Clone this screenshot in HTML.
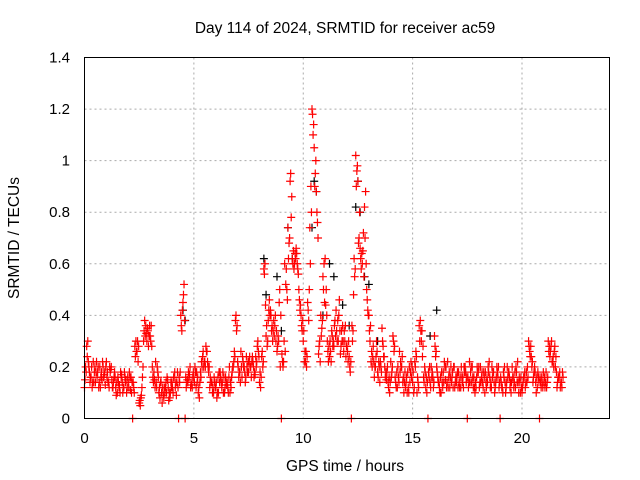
<!DOCTYPE html>
<html><head><meta charset="utf-8"><style>
body{margin:0;background:#fff}
svg{display:block;font-family:"Liberation Sans",sans-serif}
</style></head><body>
<svg id="chart" width="640" height="480">
<text x="345" y="33" text-anchor="middle" font-size="15.5">Day 114 of 2024, SRMTID for receiver ac59</text>
<g id="grid"></g>
<g id="axes"></g>
<g id="black"></g>
<g id="red"></g>
<rect x="84.5" y="57.5" width="525" height="361" fill="none" stroke="#000"/>
<text x="345" y="471" text-anchor="middle" font-size="15.5">GPS time / hours</text>
<text transform="translate(19,238) rotate(-90)" text-anchor="middle" font-size="15.5">SRMTID / TECUs</text>
</svg>
<script>
const xTicks=[0,5,10,15,20];
const yTicks=[0,0.2,0.4,0.6,0.8,1,1.2,1.4];
const yTickLabels=["0","0.2","0.4","0.6","0.8","1","1.2","1.4"];
const valsA=[.12,.28,.2,.16,.22,.14,.18,.2,.15,.17,
.22,.14,.19,.12,.16,.1,.13,.17,.12,.15,
.14,.11,0,.28,.26,.06,.09,.3,.36,.34,
.32,.2,.15,.12,.1,.14,.09,.12,.15,.08,
.14,.16,.09,0,.4,.45,0,.15,.17,.13,
.16,.12,.1,.18,.24,.22,.26,.2,.14,.1,
.12,.16,.18,.14,.1,.13,.16,.12,.2,.38,
.22,.18,.16,.2,.24,.18,.2,.22,.17,.28,
.14,.24,.58,.32,.38,.42,.3,.36,.26,.45,
0,.22,.52,.74,.92,.62,.6,.64,.5,.4,
.3,.22,.45,.74,1.2,1.05,.88,.25,.4,.55,
.62,.3,.24,.34,.28,.42,.3,.25,.36,.3,
.28,.24,0,.48,1.02,.92,.66,.6,.82,.5,
.4,.22,.28,.2,.18,.14,.35,.24,.15,.12,
.22,.32,.16,.12,.26,.2,.1,.14,.12,.18,
.14,.22,.1,.36,.3,.16,.12,0,.14,.18,
.32,.2,.14,.1,.18,.15,.22,.12,.16,.2,
.14,.18,.12,.16,.2,0,.22,.14,.16,.12,
.18,.2,.14,.1,.16,.22,.12,.18,.14,.16,
0,.12,.2,.14,.18,.1,.16,.12,.22,.14,
.1,.16,.18,.3,.28,.14,.18,.12,0,.16,
.14,.18,.3,.26,.22,.28,.12,.16,.14];
const valsB=[.2,.3,.14,.12,.18,.22,.12,.16,.2,.13,
.18,.2,.15,.16,.09,.14,.18,.1,.16,.12,
.18,.1,.12,.3,.22,.05,.16,.38,.3,.32,
.36,.14,.22,.18,.08,.06,.12,.1,.07,.14,
.1,.12,.18,.14,.34,.52,.12,.18,.12,.16,
.2,.14,.08,.22,.2,.28,.2,.16,.1,.14,
.08,.18,.14,.1,.16,.12,.1,.18,.26,.34,
.16,.26,.22,.14,.18,.24,.22,.16,.2,.26,
.12,.2,.6,.28,.46,.34,.38,.3,.32,.2,
.22,.6,.5,.68,.78,.65,.62,.58,.42,.34,
.22,.2,.38,.9,1.1,.95,.76,.3,.35,.6,
.5,.22,.26,.28,.38,.3,.46,.34,.26,.24,
.22,.18,.3,.55,.96,.7,.58,.72,.88,.42,
.3,.2,.16,.3,.22,.2,.28,.16,.2,.1,
.18,.26,.12,.16,.22,.14,.18,.1,.2,.16,
.1,.26,.14,.38,.24,.2,.1,.16,.2,.12,
.24,.16,.1,.14,.22,.12,.16,.2,.12,.14,
.18,.12,.16,.2,.14,.12,.18,.16,.1,.2,
.12,.16,.18,.14,.2,.12,.16,.1,.2,.12,
.14,.18,.1,.16,.12,.2,.14,.18,.1,.16,
.14,.12,.2,.26,.2,.18,.1,.16,.14,.12,
.12,.14,.28,.3,.2,.24,.16,.12,.18];
const valsC=[.15,.24,.18,.2,.14,.18,.2,.12,.22,.18,
.16,.12,.2,.14,.12,.16,.1,.14,.18,.1,
.12,.16,.14,.24,.3,.07,.12,.34,.33,.28,
.3,.16,.12,.2,.12,.1,.08,.14,.12,.1,
.12,.18,.14,.16,.36,.48,.16,.14,.2,.12,
.14,.18,.12,.16,.26,.2,.22,.12,.14,.16,
.14,.1,.16,.18,.12,.14,.2,.16,.22,.4,
.2,.14,.24,.18,.2,.22,.16,.2,.24,.3,
.18,.26,.56,.36,.42,.4,.34,.4,.28,.5,
.25,.3,.58,.62,.95,.6,.64,.6,.46,.36,
.34,.26,.42,.6,1.18,.9,.8,.28,.32,.5,
.44,.26,.3,.32,.36,.34,.4,.28,.3,.36,
.26,.2,.36,.62,.9,.68,.62,.65,.7,.46,
.34,.26,.22,.24,.16,.22,.3,.2,.18,.16,
.16,.3,.14,.2,.18,.24,.14,.16,.1,.22,
.18,.2,.16,.3,.34,.14,.16,.18,.12,.16,
.28,.18,.12,.18,.14,.2,.12,.16,.18,.12,
.16,.14,.2,.12,.18,.16,.14,.2,.12,.16,
.2,.14,.12,.18,.14,.16,.2,.14,.16,.2,
.16,.1,.14,.2,.16,.14,.12,.2,.14,.1,
.12,.18,.14,.28,.24,.16,.14,.18,.16,.14,
.16,.12,.26,.28,.24,.2,.14,.18,.12];
const valsD=[.18,.22,.16,.14,.2,.16,.14,.18,.16,.2,
.14,.18,.12,.18,.14,.12,.16,.12,.14,.16,
.16,.14,.1,.26,.28,.08,.2,.32,.35,.36,
.28,.18,.14,.16,.14,.12,.1,.16,.1,.12,
.16,.14,.12,.18,.42,.38,.14,.16,.14,.18,
.18,.16,.14,.2,.22,.26,.18,.14,.12,.12,
.1,.14,.12,.16,.14,.1,.14,.2,.24,.36,
.18,.2,.2,.16,.22,.2,.24,.18,.22,.24,
.16,.22,.44,.3,.4,.36,.32,.34,.3,.4,
.2,.26,.46,.7,.86,.58,.66,.56,.44,.38,
.26,.24,.5,.8,1.14,1.0,.7,.22,.38,.45,
.4,.28,.22,.3,.32,.38,.34,.3,.34,.28,
.3,.22,.34,.58,.98,.8,.64,.55,.6,.4,
.36,.24,.2,.26,.2,.18,.24,.18,.14,.14,
.2,.28,.18,.14,.2,.16,.12,.18,.14,.2,
.12,.24,.12,.34,.28,.18,.14,.2,.16,.14,
.26,.14,.16,.12,.2,.14,.18,.14,.2,.16,
.12,.16,.14,.18,.16,.14,.2,.12,.14,.18,
.14,.18,.16,.12,.18,.14,.18,.12,.18,.14,
.12,.16,.12,.18,.14,.16,.18,.14,.16,.12,
.16,.14,.16,.24,.22,.2,.16,.14,.12,.18,
.14,.16,.24,.22,.26,.18,.16,.14,.16];
const blackT=[4.5,4.6,8.2,8.3,8.8,9.3,9.5,10.4,10.5,10.6,11.2,11.4,11.8,12.4,12.5,12.6,12.8,13.0,15.8,16.1,9.0,10.9,12.1,13.4];
const blackV=[.42,.38,.62,.48,.55,.74,.62,.74,.92,.88,.6,.55,.44,.82,.92,.8,.55,.52,.32,.42,.34,.4,.36,.3];
const ns="http://www.w3.org/2000/svg";
const X0=84.5,X1=609.5,Y0=418.5,Y1=57.5;
function sx(t){return X0+(t/24)*(X1-X0);}
function sy(v){return Y0-(v/1.4)*(Y0-Y1);}
const grid=document.getElementById('grid'),axes=document.getElementById('axes');
function mk(tag,attrs,parent){const e=document.createElementNS(ns,tag);for(const k in attrs)e.setAttribute(k,attrs[k]);parent.appendChild(e);return e;}
xTicks.forEach(t=>{
 const x=sx(t);
 if(t>0){const l=mk('line',{x1:x,x2:x,y1:Y1,y2:Y0,stroke:'#aaa','stroke-dasharray':'2,3'},grid);
 
 }
 const tx=mk('text',{x:x,y:443,'text-anchor':'middle','font-size':15},axes);tx.textContent=t;
 
 
});
yTicks.forEach((v,i)=>{
 const y=sy(v);
 if(v>0&&v<1.4){const l=mk('line',{x1:X0,x2:X1,y1:y,y2:y,stroke:'#aaa','stroke-dasharray':'2,3'},grid);
 
 }
 const tx=mk('text',{x:70,y:y+5,'text-anchor':'end','font-size':15},axes);tx.textContent=yTickLabels[i];
 
 
});
function plus(t,v,col,parent){
 const x=sx(t),y=sy(v);
 const p=mk('path',{d:`M${x-4},${y}h8M${x},${y-4}v8`,stroke:col,'stroke-width':1.2,fill:'none'},parent);
 
 
}
const blk=document.getElementById('black'),red=document.getElementById('red');
blackT.forEach((t,i)=>plus(t,blackV[i],'#000',blk));
valsA.forEach((v,i)=>plus(i*0.1,v,'#f00',red));
valsC.forEach((v,i)=>plus(i*0.1+0.025,v,'#f00',red));
valsB.forEach((v,i)=>plus(i*0.1+0.05,v,'#f00',red));
valsD.forEach((v,i)=>plus(i*0.1+0.075,v,'#f00',red));
</script>
</body></html>
